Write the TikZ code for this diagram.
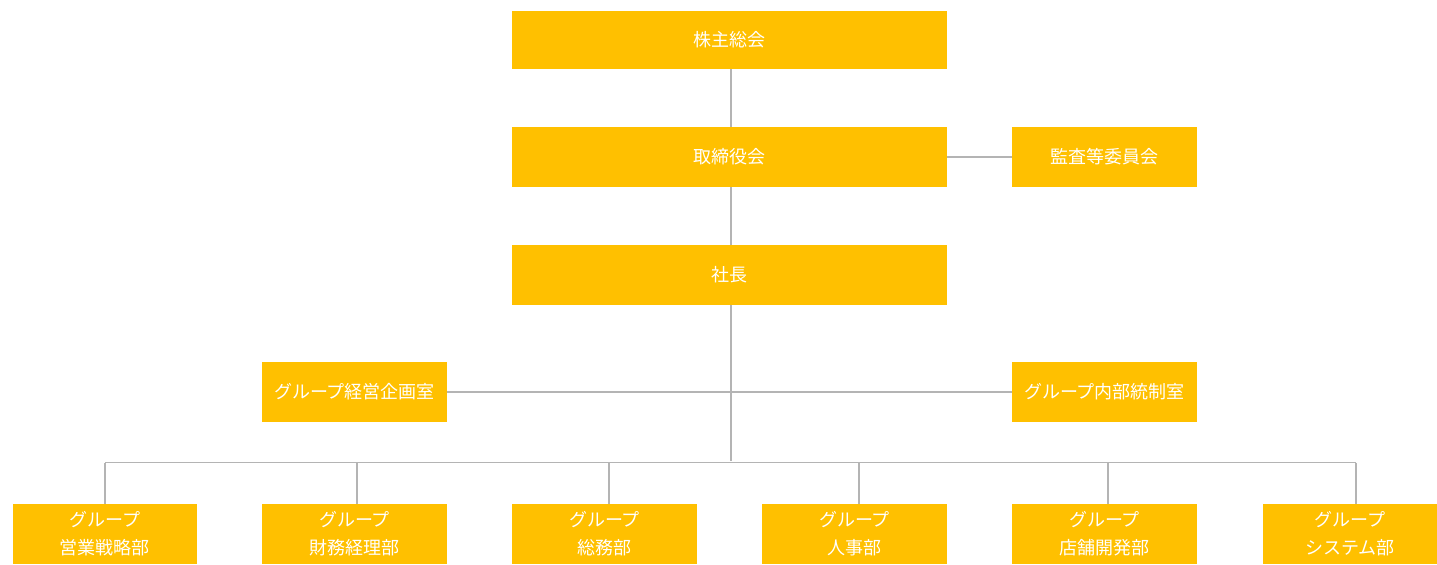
\documentclass[tikz,border=0pt]{standalone}
\usepackage{fontspec}
\setmainfont{Noto Sans CJK JP}
\definecolor{boxorange}{HTML}{FFC000}
\definecolor{linegray}{HTML}{B4B4B4}
\begin{document}
\begin{tikzpicture}[x=0.5pt,y=-0.5pt,
  orgbox/.style={fill=boxorange,draw=none,text=white,font=\fontsize{9}{14}\selectfont,align=center,inner sep=0pt},
  conn/.style={draw=linegray,line width=0.8pt}]
\useasboundingbox (0,0) rectangle (1437,564);
% boxes (x1,y1,x2,y2 in px)
\newcommand{\obox}[6]{\fill[boxorange] (#2,#3) rectangle (#4,#5);
  \node[orgbox] (#1) at ({(#2+#4)/2},{(#3+#5)/2}) [minimum width={(#4-#2)*0.5pt},minimum height={(#5-#3)*0.5pt}] {#6};}
\obox{kabu}{512}{11}{947}{69}{株主総会}
\obox{tori}{512}{127}{947}{187}{取締役会}
\obox{kansa}{1012}{127}{1197}{187}{監査等委員会}
\obox{sha}{512}{245}{947}{305}{社長}
\obox{keiei}{262}{362}{447}{422}{グループ経営企画室}
\obox{naibu}{1012}{362}{1197}{422}{グループ内部統制室}
\obox{b1}{13}{504}{197}{564}{グループ\\営業戦略部}
\obox{b2}{262}{504}{447}{564}{グループ\\財務経理部}
\obox{b3}{512}{504}{697}{564}{グループ\\総務部}
\obox{b4}{762}{504}{947}{564}{グループ\\人事部}
\obox{b5}{1012}{504}{1197}{564}{グループ\\店舗開発部}
\obox{b6}{1263}{504}{1437}{564}{グループ\\システム部}
% coordinates
\coordinate (busc) at (731,461);
\coordinate (busL) at (105,462.5);
\coordinate (busR) at (1356,462.5);
\coordinate (d2) at (357,462.5);
\coordinate (d3) at (609,462.5);
\coordinate (d4) at (859,462.5);
\coordinate (d5) at (1108,462.5);
% connectors
\draw[conn] (kabu.south -| busc) -- (tori.north -| busc);
\draw[conn] (tori.south -| busc) -- (sha.north -| busc);
\draw[conn] (tori.east) -- (kansa.west);
\draw[conn] (sha.south -| busc) -- (busc);
\draw[conn] (keiei.east) -- (naibu.west);
\draw[conn] (busL) -- (busR);
\draw[conn] (busL) -- (busL |- b1.north);
\draw[conn] (d2) -- (d2 |- b2.north);
\draw[conn] (d3) -- (d3 |- b3.north);
\draw[conn] (d4) -- (d4 |- b4.north);
\draw[conn] (d5) -- (d5 |- b5.north);
\draw[conn] (busR) -- (busR |- b6.north);
\end{tikzpicture}
\end{document}
